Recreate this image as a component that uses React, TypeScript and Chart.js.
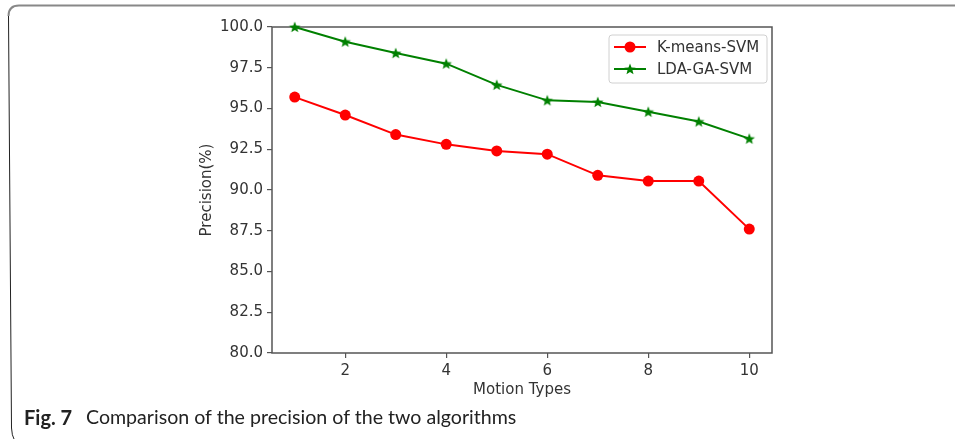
import React, { useEffect, useRef } from "react";
import { Chart, registerables } from "chart.js";

Chart.register(...registerables);

const motionTypes = [1, 2, 3, 4, 5, 6, 7, 8, 9, 10];
const kmeansSvm = [95.7, 94.6, 93.4, 92.8, 92.4, 92.2, 90.9, 90.55, 90.55, 87.6];
const ldaGaSvm = [100.0, 99.1, 98.4, 97.75, 96.45, 95.5, 95.4, 94.8, 94.2, 93.15];
const seriesLabels = ["K-means-SVM", "LDA-GA-SVM"];
const xTicks = [2, 4, 6, 8, 10];
const yTicks = [80, 82.5, 85, 87.5, 90, 92.5, 95, 97.5, 100];
const xTitle = "Motion Types";
const yTitle = "Precision(%)";
const captionBold = "Fig. 7";
const captionText = "Comparison of the precision of the two algorithms";

const FONT = "'DejaVu Sans', sans-serif";
const TEXT_COLOR = "#333";
const FS = 15;

function makeStar(color: string, outer: number, inner: number): HTMLCanvasElement {
  const size = Math.ceil(outer * 2 + 2);
  const c = document.createElement("canvas");
  c.width = size;
  c.height = size;
  const g = c.getContext("2d")!;
  const cx = size / 2;
  const cy = size / 2 + 0.5;
  g.beginPath();
  for (let i = 0; i < 10; i++) {
    const r = i % 2 === 0 ? outer : inner;
    const ang = -Math.PI / 2 + (i * Math.PI) / 5;
    const px = cx + r * Math.cos(ang);
    const py = cy + r * Math.sin(ang);
    if (i === 0) g.moveTo(px, py);
    else g.lineTo(px, py);
  }
  g.closePath();
  g.fillStyle = color;
  g.fill();
  return c;
}

export default function App() {
  const ref = useRef<HTMLCanvasElement | null>(null);

  useEffect(() => {
    if (!ref.current) return;
    const star = makeStar("#008000", 6, 2.6);

    const framePlugin = {
      id: "frameBox",
      beforeDatasetsDraw(chart: any) {
        const { ctx, chartArea: a } = chart;
        ctx.save();
        ctx.strokeStyle = "#555";
        ctx.lineWidth = 1.5;
        ctx.strokeRect(a.left, a.top, a.right - a.left, a.bottom - a.top);
        ctx.restore();
      },
      afterDraw(chart: any) {
        const { ctx, chartArea: a } = chart;
        ctx.save();
        const bx = a.right - 163;
        const by = a.top + 8;
        const bw = 158;
        const bh = 48;
        const r = 3;
        ctx.beginPath();
        ctx.moveTo(bx + r, by);
        ctx.arcTo(bx + bw, by, bx + bw, by + bh, r);
        ctx.arcTo(bx + bw, by + bh, bx, by + bh, r);
        ctx.arcTo(bx, by + bh, bx, by, r);
        ctx.arcTo(bx, by, bx + bw, by, r);
        ctx.closePath();
        ctx.fillStyle = "rgba(255,255,255,0.85)";
        ctx.fill();
        ctx.strokeStyle = "#d0d0d0";
        ctx.lineWidth = 1;
        ctx.stroke();
        chart.data.datasets.forEach((ds: any, i: number) => {
          const y = by + 12 + i * 22;
          const x0 = bx + 5;
          ctx.strokeStyle = ds.borderColor;
          ctx.lineWidth = 2;
          ctx.beginPath();
          ctx.moveTo(x0, y);
          ctx.lineTo(x0 + 32, y);
          ctx.stroke();
          if (i === 0) {
            ctx.fillStyle = ds.borderColor;
            ctx.beginPath();
            ctx.arc(x0 + 16, y, 5.5, 0, Math.PI * 2);
            ctx.fill();
          } else {
            ctx.drawImage(star, x0 + 16 - star.width / 2, y - star.height / 2);
          }
          ctx.fillStyle = TEXT_COLOR;
          ctx.font = `${FS}px ${FONT}`;
          ctx.textBaseline = "middle";
          ctx.textAlign = "left";
          ctx.fillText(ds.label, bx + 48, y + 1);
        });
        ctx.restore();
      },
    };

    const chart = new Chart(ref.current, {
      type: "line",
      data: {
        datasets: [
          {
            label: seriesLabels[0],
            data: motionTypes.map((x, i) => ({ x, y: kmeansSvm[i] })),
            borderColor: "#ff0000",
            backgroundColor: "#ff0000",
            borderWidth: 2,
            pointRadius: 5.5,
            pointBorderWidth: 0,
            pointStyle: "circle",
            clip: false as any,
            tension: 0,
          },
          {
            label: seriesLabels[1],
            data: motionTypes.map((x, i) => ({ x, y: ldaGaSvm[i] })),
            borderColor: "#008000",
            backgroundColor: "#008000",
            borderWidth: 2,
            pointRadius: 6,
            pointStyle: star as any,
            clip: false as any,
            tension: 0,
          },
        ],
      },
      options: {
        animation: false,
        responsive: false,
        maintainAspectRatio: false,
        events: [],
        layout: { padding: { left: 200, top: 27, right: 183, bottom: 41 } },
        plugins: { legend: { display: false }, tooltip: { enabled: false }, title: { display: false } },
        scales: {
          x: {
            type: "linear",
            min: 0.55,
            max: 10.45,
            afterBuildTicks: (s: any) => {
              s.ticks = xTicks.map((v) => ({ value: v }));
            },
            afterFit: (s: any) => {
              s.height = 45;
            },
            grid: { drawOnChartArea: false, drawTicks: true, tickLength: 5, color: "#555", lineWidth: 1.2 },
            border: { display: false },
            ticks: {
              color: TEXT_COLOR,
              font: { family: FONT, size: FS },
              padding: 4,
              maxRotation: 0,
              autoSkip: false,
              callback: (v: any) => String(v),
            },
            title: {
              display: true,
              text: xTitle,
              color: TEXT_COLOR,
              font: { family: FONT, size: FS, lineHeight: 1 },
              padding: 0,
            },
          },
          y: {
            type: "linear",
            min: 80,
            max: 100,
            afterBuildTicks: (s: any) => {
              s.ticks = yTicks.map((v) => ({ value: v }));
            },
            afterFit: (s: any) => {
              s.width = 72;
            },
            grid: { drawOnChartArea: false, drawTicks: true, tickLength: 5, color: "#555", lineWidth: 1.2 },
            border: { display: false },
            ticks: {
              color: TEXT_COLOR,
              font: { family: FONT, size: FS },
              padding: 4,
              autoSkip: false,
              callback: (v: any) => Number(v).toFixed(1),
            },
            title: {
              display: true,
              text: yTitle,
              color: TEXT_COLOR,
              font: { family: FONT, size: FS, lineHeight: 1 },
              padding: 0,
            },
          },
        },
      },
      plugins: [framePlugin],
    });
    return () => chart.destroy();
  }, []);

  return (
    <div style={{ position: "fixed", left: 0, top: 0, width: 955, height: 439, background: "#fff", overflow: "hidden" }}>
      <svg width={955} height={439} style={{ position: "absolute", left: 0, top: 0 }}>
        <path d="M 955 5.5 L 19 5.5 Q 8.5 5.5 8.5 16" fill="none" stroke="#888" strokeWidth={2} />
        <path d="M 8.5 16 L 11.5 428 Q 12 436 14 439" fill="none" stroke="#222" strokeWidth={1} />
      </svg>
      <canvas ref={ref} width={955} height={439} style={{ position: "absolute", left: 0, top: 0, width: 955, height: 439 }} />
      <div
        style={{
          position: "absolute",
          left: 24,
          top: 407,
          fontFamily: "Lato, sans-serif",
          fontSize: 20,
          fontWeight: 700,
          lineHeight: "20px",
          color: "#222",
          whiteSpace: "nowrap",
        }}
      >
        {captionBold}
      </div>
      <div
        style={{
          position: "absolute",
          left: 86,
          top: 407,
          fontFamily: "Lato, sans-serif",
          fontSize: 19.6,
          lineHeight: "20px",
          color: "#222",
          whiteSpace: "nowrap",
        }}
      >
        {captionText}
      </div>
    </div>
  );
}
